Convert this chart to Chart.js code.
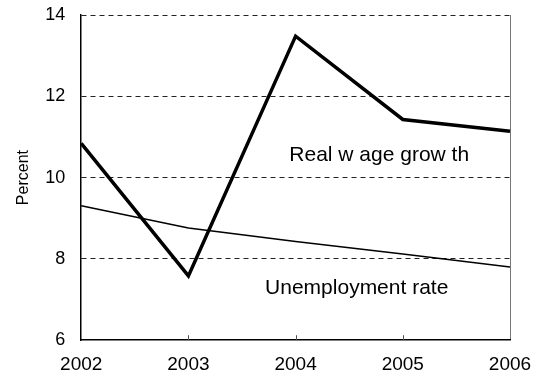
<!DOCTYPE html>
<html>
<head>
<meta charset="utf-8">
<script src="https://cdn.jsdelivr.net/npm/chart.js@4"></script>
<style>
  html, body { margin: 0; padding: 0; background: #fff; }
  #wrap { width: 539px; height: 378px; }
</style>
</head>
<body>
<div id="wrap"><canvas id="chart" width="539" height="378"></canvas></div>
<script>
const years = ['2002', '2003', '2004', '2005', '2006']
const realWageGrowth = [10.84, 7.58, 13.48, 11.43, 11.14]
const unemploymentRate = [9.31, 8.76, 8.43, 8.12, 7.8]
const yTicks = [6, 8, 10, 12, 14]

const FONT = 'Liberation Sans, Arial, sans-serif'

// inline series labels + small inward x ticks
const extras = {
  id: 'extras',
  afterDraw(chart) {
    const { ctx, scales: { x, y } } = chart
    ctx.save()
    ctx.strokeStyle = '#555'
    ctx.lineWidth = 1
    for (let i = 1; i < years.length - 1; i++) {
      const px = Math.round(x.getPixelForTick(i)) + 0.5
      ctx.beginPath()
      ctx.moveTo(px, y.bottom)
      ctx.lineTo(px, y.bottom - 5)
      ctx.stroke()
    }
    ctx.fillStyle = '#000'
    ctx.font = '21px ' + FONT
    ctx.textAlign = 'center'
    ctx.textBaseline = 'middle'
    ctx.fillText('Real w age grow th', x.getPixelForValue(2.78), y.getPixelForValue(10.54))
    ctx.fillText('Unemployment rate', x.getPixelForValue(2.57), y.getPixelForValue(7.28))
    ctx.restore()
  }
}

// let the layout padding alone decide where the plot edges sit
const noEdgePad = scale => {
  scale.paddingTop = 0
  scale.paddingBottom = 0
  scale.paddingLeft = 0
  scale.paddingRight = 0
}

new Chart(document.getElementById('chart'), {
  type: 'line',
  data: {
    labels: years,
    datasets: [
      {
        label: 'Real wage growth',
        data: realWageGrowth,
        borderColor: '#000',
        borderWidth: 3.5,
        pointRadius: 0,
        tension: 0
      },
      {
        label: 'Unemployment rate',
        data: unemploymentRate,
        borderColor: '#000',
        borderWidth: 1.5,
        pointRadius: 0,
        tension: 0
      }
    ]
  },
  options: {
    responsive: false,
    animation: false,
    layout: { padding: { top: 15, right: 29, bottom: -11, left: 14 } },
    plugins: {
      legend: { display: false },
      tooltip: { enabled: false }
    },
    scales: {
      x: {
        offset: false,
        afterFit: noEdgePad,
        grid: {
          drawTicks: false,
          color: ctx => (ctx.index === years.length - 1 ? '#777' : 'rgba(0,0,0,0)'),
          lineWidth: 1
        },
        border: { display: true, color: '#000', width: 1.5 },
        ticks: {
          color: '#000',
          padding: 13,
          maxRotation: 0,
          font: { family: FONT, size: 19 }
        }
      },
      y: {
        min: 6,
        max: 14,
        afterFit: noEdgePad,
        afterBuildTicks: axis => { axis.ticks = yTicks.map(v => ({ value: v })) },
        grid: {
          drawTicks: false,
          color: ctx => (ctx.tick && ctx.tick.value === 6 ? 'rgba(0,0,0,0)' : '#222'),
          lineWidth: 1
        },
        border: { display: true, color: '#000', width: 1.5, dash: [5, 4] },
        ticks: {
          color: '#000',
          padding: 16,
          font: { family: FONT, size: 18 }
        },
        title: {
          display: true,
          text: 'Percent',
          color: '#000',
          padding: { top: 0, bottom: -4 },
          font: { family: FONT, size: 16 }
        }
      }
    }
  },
  plugins: [extras]
})
</script>
</body>
</html>
